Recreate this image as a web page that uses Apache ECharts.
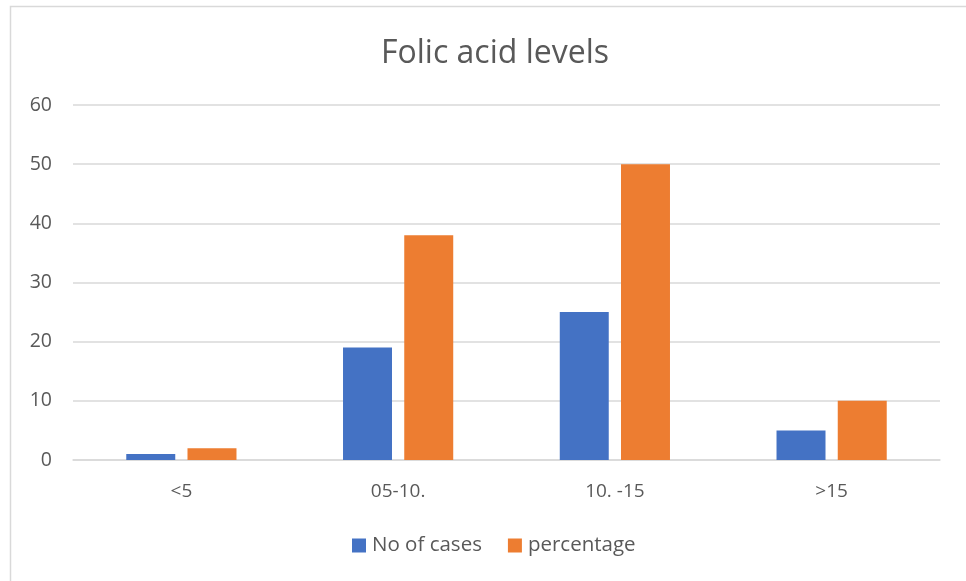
<!DOCTYPE html>
<html>
<head>
<meta charset="utf-8">
<script src="https://cdn.jsdelivr.net/npm/echarts@6/dist/echarts.min.js"></script>
<style>
  html, body { margin: 0; padding: 0; background: #fff; }
  #chart { width: 966px; height: 581px; }
</style>
</head>
<body>
<div id="chart"></div>
<script>
// Folic acid level bands and the two measured series
const categories = ['<5', '05-10.', '10. -15', '>15'];
const casesValues = [1, 19, 25, 5];
const percentValues = [2, 38, 50, 10];
const yTicks = { min: 0, max: 60, step: 10 };

const FONT = '"Open Sans", Lato, "Liberation Sans", sans-serif';
const TEXT = '#595959';

const chart = echarts.init(document.getElementById('chart'), null, { renderer: 'canvas' });

chart.setOption({
  backgroundColor: '#ffffff',
  animation: false,
  graphic: [{
    type: 'rect',
    shape: { x: 10.5, y: 6.5, width: 980, height: 600 },
    style: { fill: 'none', stroke: '#d9d9d9', lineWidth: 1.5 },
    silent: true,
    z: -1
  }],
  title: {
    text: 'Folic acid levels',
    left: 490,
    textAlign: 'center',
    top: 33,
    textStyle: { fontFamily: FONT, fontSize: 32, fontWeight: 400, color: TEXT }
  },
  legend: {
    bottom: 20,
    left: 347,
    itemWidth: 14,
    itemHeight: 14,
    itemGap: 26,
    icon: 'rect',
    textStyle: { fontFamily: FONT, fontSize: 20.5, color: TEXT, padding: [0, 0, 0, 1] },
    data: ['No of cases', 'percentage']
  },
  grid: { left: 73, right: 26, top: 105, bottom: 121, containLabel: false },
  xAxis: {
    type: 'category',
    data: categories,
    axisLine: { show: true, lineStyle: { color: '#d9d9d9', width: 1.5 } },
    axisTick: { show: false },
    axisLabel: { fontFamily: FONT, fontSize: 19, color: TEXT, margin: 22 }
  },
  yAxis: {
    type: 'value',
    min: yTicks.min,
    max: yTicks.max,
    interval: yTicks.step,
    axisLine: { show: false },
    axisTick: { show: false },
    axisLabel: { fontFamily: FONT, fontSize: 19.5, color: TEXT, margin: 21 },
    splitLine: { lineStyle: { color: '#d9d9d9', width: 1.5 } }
  },
  series: [
    {
      name: 'No of cases',
      type: 'bar',
      data: casesValues,
      barWidth: '22.6%',
      barGap: '25%',
      itemStyle: { color: '#4472C4' }
    },
    {
      name: 'percentage',
      type: 'bar',
      data: percentValues,
      barWidth: '22.6%',
      itemStyle: { color: '#ED7D31' }
    }
  ]
});
</script>
</body>
</html>
